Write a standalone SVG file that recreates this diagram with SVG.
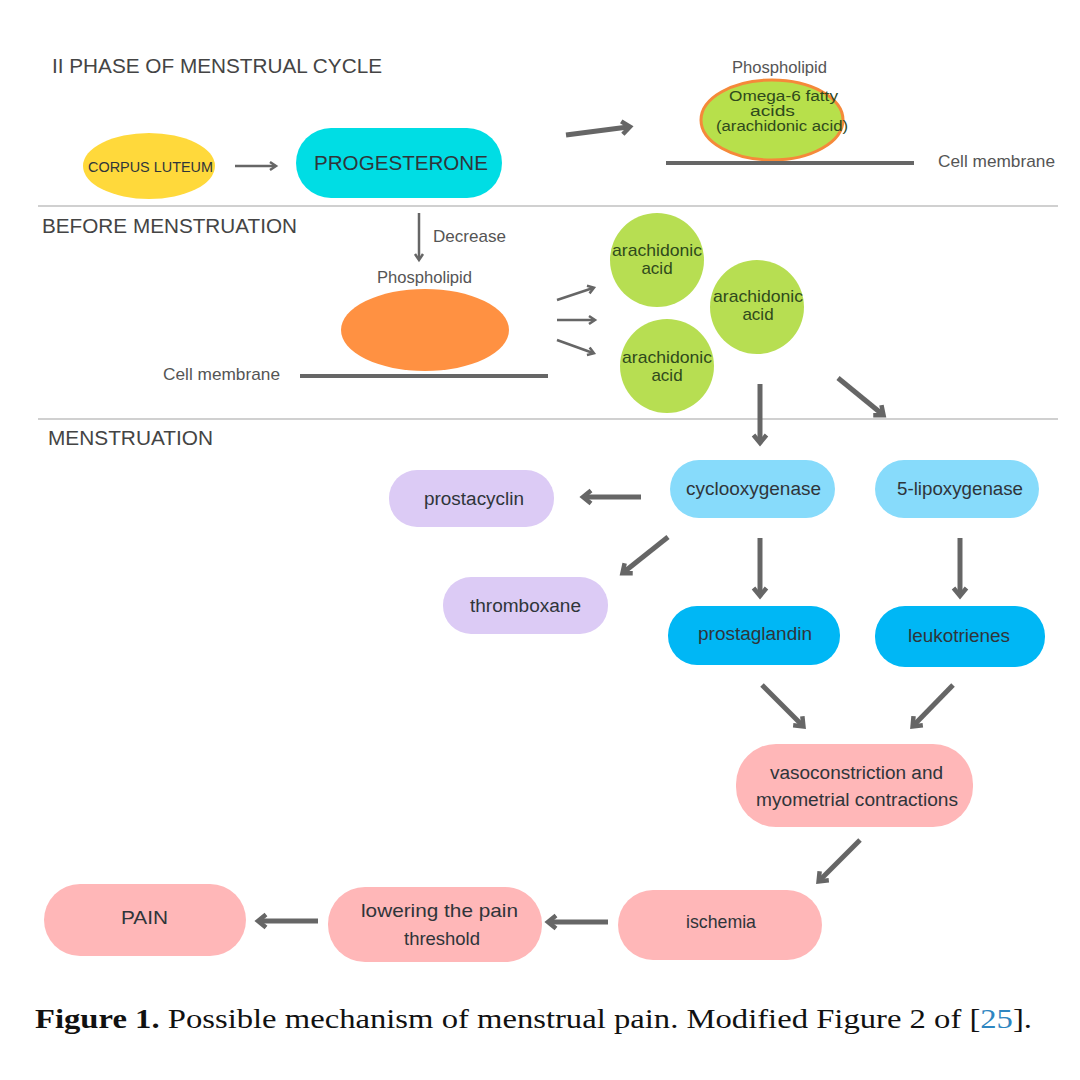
<svg xmlns="http://www.w3.org/2000/svg" width="1080" height="1080" viewBox="0 0 1080 1080">
<defs>
<style>
.t{font-family:"Liberation Sans",Arial,sans-serif;fill:#2f353a;}
.h{font-family:"Liberation Sans",Arial,sans-serif;fill:#444;font-size:20px;}
.lbl{font-family:"Liberation Sans",Arial,sans-serif;fill:#555;}
.g{fill:#2f4a1c;}
.sep{stroke:#d0d0d0;stroke-width:2;}
.mem{stroke:#666;stroke-width:4;}
.ak{stroke:#666;stroke-width:5;fill:none;}
.an{stroke:#666;stroke-width:2.5;fill:none;}
</style>
<marker id="mk" markerUnits="userSpaceOnUse" viewBox="0 0 18 18" markerWidth="18" markerHeight="18" refX="11" refY="9" orient="auto">
<path d="M5,2.5 L13,9 L5,15.5" fill="none" stroke="#666" stroke-width="4.5"/>
</marker>
<marker id="mn" markerUnits="userSpaceOnUse" viewBox="0 0 12 12" markerWidth="12" markerHeight="12" refX="8" refY="6" orient="auto">
<path d="M3,2 L9,6 L3,10" fill="none" stroke="#666" stroke-width="2.5"/>
</marker>
</defs>
<rect width="1080" height="1080" fill="#fff"/>

<line class="sep" x1="38" y1="206" x2="1058" y2="206"/>
<line class="sep" x1="38" y1="419" x2="1058" y2="419"/>
<text class="h" x="52" y="73" textLength="330" lengthAdjust="spacingAndGlyphs">II PHASE OF MENSTRUAL CYCLE</text>
<text class="h" x="42" y="233" textLength="255" lengthAdjust="spacingAndGlyphs">BEFORE MENSTRUATION</text>
<text class="h" x="48" y="445" textLength="165" lengthAdjust="spacingAndGlyphs">MENSTRUATION</text>

<g id="corpus-luteum">
<ellipse cx="149" cy="166" rx="66" ry="33" fill="#FFD93B"/>
<text class="t" x="88" y="172" font-size="15" textLength="125" lengthAdjust="spacingAndGlyphs" fill="#4a4020">CORPUS LUTEUM</text>
</g>
<g id="progesterone">
<rect x="296" y="128" width="206" height="70" rx="35" fill="#00DDE4"/>
<text class="t" x="314" y="170" font-size="21" textLength="174" lengthAdjust="spacingAndGlyphs" fill="#1d4a55">PROGESTERONE</text>
</g>
<g id="phospholipid-top">
<text class="lbl" x="732" y="73" font-size="16" textLength="95" lengthAdjust="spacingAndGlyphs">Phospholipid</text>
<ellipse cx="772" cy="120" rx="71" ry="40" fill="#B7E04B" stroke="#F5893A" stroke-width="3"/>
<text class="t g" x="729" y="101" font-size="14" textLength="109" lengthAdjust="spacingAndGlyphs">Omega-6 fatty</text>
<text class="t g" x="750" y="116" font-size="14" textLength="45" lengthAdjust="spacingAndGlyphs">acids</text>
<text class="t g" x="716" y="131" font-size="14" textLength="132" lengthAdjust="spacingAndGlyphs">(arachidonic acid)</text>
</g>
<g id="cell-membrane-top">
<line class="mem" x1="666" y1="163" x2="914" y2="163"/>
<text class="lbl" x="938" y="167" font-size="17" textLength="117" lengthAdjust="spacingAndGlyphs">Cell membrane</text>
</g>
<g id="phospholipid-bottom">
<text class="lbl" x="377" y="283" font-size="16" textLength="95" lengthAdjust="spacingAndGlyphs">Phospholipid</text>
<ellipse cx="425" cy="330" rx="84" ry="41" fill="#FF9142"/>
</g>
<g id="cell-membrane-bottom">
<line class="mem" x1="300" y1="376" x2="548" y2="376"/>
<text class="lbl" x="163" y="380" font-size="17" textLength="117" lengthAdjust="spacingAndGlyphs">Cell membrane</text>
</g>
<g id="aa1">
<circle cx="657" cy="260" r="47" fill="#B7DE52"/>
<text class="t g" x="612" y="256" font-size="17" textLength="90" lengthAdjust="spacingAndGlyphs">arachidonic</text>
<text class="t g" x="657" y="274" font-size="17" text-anchor="middle">acid</text>
</g>
<g id="aa2">
<circle cx="757" cy="307" r="47" fill="#B7DE52"/>
<text class="t g" x="713" y="302" font-size="17" textLength="90" lengthAdjust="spacingAndGlyphs">arachidonic</text>
<text class="t g" x="758" y="320" font-size="17" text-anchor="middle">acid</text>
</g>
<g id="aa3">
<circle cx="667" cy="366" r="47" fill="#B7DE52"/>
<text class="t g" x="622" y="363" font-size="17" textLength="90" lengthAdjust="spacingAndGlyphs">arachidonic</text>
<text class="t g" x="667" y="381" font-size="17" text-anchor="middle">acid</text>
</g>
<g id="cyclooxygenase">
<rect x="670" y="460" width="165" height="58" rx="29" fill="#87DBFB"/>
<text class="t" x="686" y="495" font-size="18" textLength="135" lengthAdjust="spacingAndGlyphs">cyclooxygenase</text>
</g>
<g id="lipoxygenase">
<rect x="875" y="460" width="164" height="58" rx="29" fill="#87DBFB"/>
<text class="t" x="897" y="495" font-size="18" textLength="126" lengthAdjust="spacingAndGlyphs">5-lipoxygenase</text>
</g>
<g id="prostacyclin">
<rect x="389" y="470" width="165" height="57" rx="28" fill="#DCCBF5"/>
<text class="t" x="424" y="505" font-size="18" textLength="100" lengthAdjust="spacingAndGlyphs">prostacyclin</text>
</g>
<g id="thromboxane">
<rect x="443" y="577" width="165" height="57" rx="28" fill="#DCCBF5"/>
<text class="t" x="470" y="612" font-size="18" textLength="111" lengthAdjust="spacingAndGlyphs">thromboxane</text>
</g>
<g id="prostaglandin">
<rect x="668" y="606" width="172" height="59" rx="29" fill="#00B7F5"/>
<text class="t" x="698" y="640" font-size="18" textLength="114" lengthAdjust="spacingAndGlyphs">prostaglandin</text>
</g>
<g id="leukotrienes">
<rect x="875" y="606" width="170" height="61" rx="30" fill="#00B7F5"/>
<text class="t" x="908" y="642" font-size="18" textLength="102" lengthAdjust="spacingAndGlyphs">leukotrienes</text>
</g>
<g id="vasoconstriction">
<rect x="736" y="744" width="237" height="83" rx="40" fill="#FFB7B8"/>
<text class="t" x="770" y="779" font-size="18" textLength="173" lengthAdjust="spacingAndGlyphs">vasoconstriction and</text>
<text class="t" x="756" y="806" font-size="18" textLength="202" lengthAdjust="spacingAndGlyphs">myometrial contractions</text>
</g>
<g id="ischemia">
<rect x="618" y="890" width="204" height="70" rx="35" fill="#FFB7B8"/>
<text class="t" x="686" y="928" font-size="19" textLength="70" lengthAdjust="spacingAndGlyphs">ischemia</text>
</g>
<g id="lowering">
<rect x="328" y="887" width="214" height="75" rx="37" fill="#FFB7B8"/>
<text class="t" x="361" y="917" font-size="19" textLength="157" lengthAdjust="spacingAndGlyphs">lowering the pain</text>
<text class="t" x="404" y="945" font-size="19" textLength="76" lengthAdjust="spacingAndGlyphs">threshold</text>
</g>
<g id="pain">
<rect x="44" y="884" width="202" height="72" rx="36" fill="#FFB7B8"/>
<text class="t" x="121" y="924" font-size="19" textLength="47" lengthAdjust="spacingAndGlyphs">PAIN</text>
</g>

<g id="connectors">
<line class="an" x1="235" y1="166" x2="275" y2="166" marker-end="url(#mn)"/>
<line class="ak" x1="566" y1="135" x2="628" y2="127" marker-end="url(#mk)"/>
<line class="an" x1="419" y1="213" x2="419" y2="259" marker-end="url(#mn)"/>
<text class="lbl" x="433" y="242" font-size="17" textLength="73" lengthAdjust="spacingAndGlyphs">Decrease</text>
<line class="an" x1="557" y1="300" x2="593" y2="288" marker-end="url(#mn)"/>
<line class="an" x1="557" y1="320" x2="594" y2="320" marker-end="url(#mn)"/>
<line class="an" x1="557" y1="340" x2="593" y2="353" marker-end="url(#mn)"/>
<line class="ak" x1="760" y1="384" x2="760" y2="441" marker-end="url(#mk)"/>
<line class="ak" x1="838" y1="378" x2="882" y2="414" marker-end="url(#mk)"/>
<line class="ak" x1="641" y1="497" x2="585" y2="497" marker-end="url(#mk)"/>
<line class="ak" x1="668" y1="537" x2="624" y2="572" marker-end="url(#mk)"/>
<line class="ak" x1="760" y1="538" x2="760" y2="594" marker-end="url(#mk)"/>
<line class="ak" x1="960" y1="538" x2="960" y2="594" marker-end="url(#mk)"/>
<line class="ak" x1="762" y1="685" x2="802" y2="725" marker-end="url(#mk)"/>
<line class="ak" x1="953" y1="685" x2="914" y2="725" marker-end="url(#mk)"/>
<line class="ak" x1="860" y1="840" x2="820" y2="880" marker-end="url(#mk)"/>
<line class="ak" x1="608" y1="922" x2="550" y2="922" marker-end="url(#mk)"/>
<line class="ak" x1="318" y1="921" x2="260" y2="921" marker-end="url(#mk)"/>
</g>

<text x="35" y="1028" font-family="'Liberation Serif','Times New Roman',serif" font-size="28" fill="#111" textLength="997" lengthAdjust="spacingAndGlyphs"><tspan font-weight="bold">Figure 1.</tspan> Possible mechanism of menstrual pain. Modified Figure 2 of [<tspan fill="#2E86C1">25</tspan>].</text>
</svg>
